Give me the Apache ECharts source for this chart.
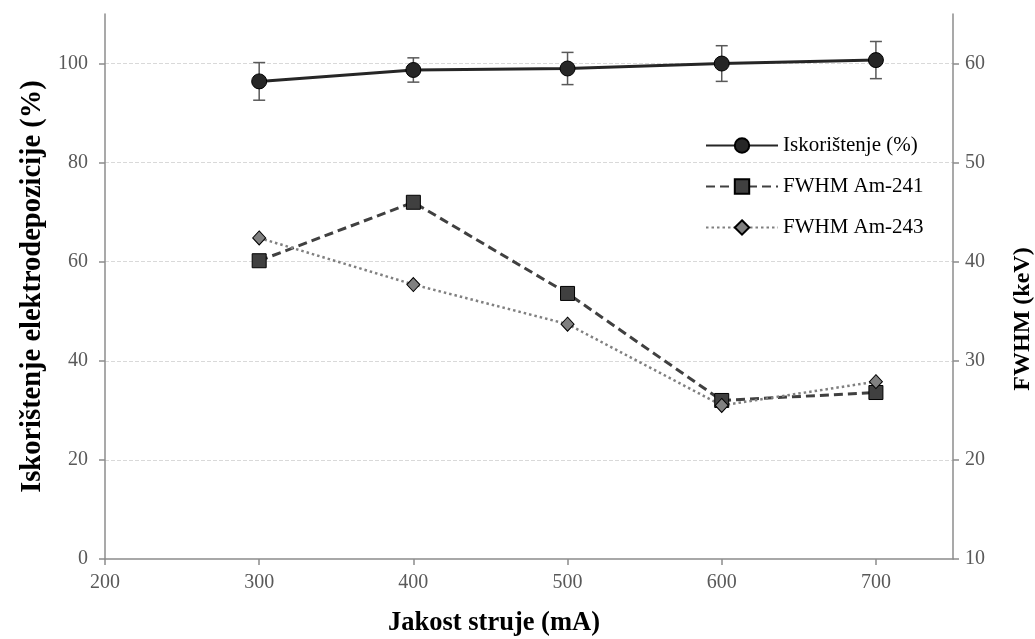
<!DOCTYPE html>
<html><head><meta charset="utf-8">
<script src="https://cdn.jsdelivr.net/npm/echarts@6/dist/echarts.min.js"></script>
<style>html,body{margin:0;padding:0;background:#fff}#c{width:1035px;height:639px}</style>
</head><body><div id="c"></div>
<script>
var current = [300, 400, 500, 600, 700];
var efficiency = [96.4, 98.7, 99.0, 100.0, 100.7];
var efficiencyErr = [3.8, 2.45, 3.25, 3.6, 3.75];
var fwhm241 = [40.1, 46.0, 36.8, 26.0, 26.8];
var fwhm243 = [42.4, 37.7, 33.7, 25.5, 27.9];
var names = ['Iskorištenje (%)', 'FWHM Am-241', 'FWHM Am-243'];
var xTicks = [200, 300, 400, 500, 600, 700];
var leftTicks = [0, 20, 40, 60, 80, 100];
var rightTicks = [10, 20, 30, 40, 50, 60];

var font = 'Liberation Serif, Times New Roman, serif';
function pairs(xs, ys){ return xs.map(function(x,i){ return [x, ys[i]]; }); }
var errData = current.map(function(x,i){ return [x, efficiency[i]-efficiencyErr[i], efficiency[i]+efficiencyErr[i]]; });
var gridData = leftTicks.filter(function(v){ return v > 0; }).map(function(v){ return {yAxis:v}; });

var axisLineStyle = {show:true, lineStyle:{color:'#8c8c8c', width:1.5}};
var labelStyle = {fontFamily:font, fontSize:20, color:'#595959'};
var titleStyle = {fontFamily:font, fontWeight:'bold', color:'#000'};

var chart = echarts.init(document.getElementById('c'), null, {renderer:'canvas'});
chart.setOption({
  backgroundColor:'#fff',
  animation:false,
  grid:{left:105, right:82, top:14, bottom:80, containLabel:false, outerBoundsMode:'none'},
  legend:{
    data:names, orient:'vertical', left:700, top:130, itemGap:20,
    itemWidth:72, itemHeight:18,
    textStyle:{fontFamily:font, fontSize:21, color:'#000'}
  },
  xAxis:{
    type:'value', min:200, max:750, interval:100,
    name:'Jakost struje (mA)', nameLocation:'middle', nameGap:51,
    nameTextStyle:Object.assign({fontSize:26.5, padding:[0,70,0,0]}, titleStyle),
    axisLine:axisLineStyle,
    axisTick:{show:true, length:6, customValues:xTicks, lineStyle:{color:'#8c8c8c', width:1.5}},
    axisLabel:Object.assign({margin:14, customValues:xTicks}, labelStyle),
    splitLine:{show:false}
  },
  yAxis:[{
    type:'value', min:0, max:110, interval:10,
    name:'Iskorištenje elektrodepozicije (%)', nameLocation:'middle', nameGap:49, nameRotate:90,
    nameTextStyle:Object.assign({fontSize:28.5, padding:[0,0,8,0]}, titleStyle),
    axisLine:axisLineStyle,
    axisTick:{show:true, length:6, customValues:leftTicks, lineStyle:{color:'#8c8c8c', width:1.5}},
    axisLabel:Object.assign({margin:17, customValues:leftTicks}, labelStyle),
    splitLine:{show:false}
  },{
    type:'value', min:10, max:65, interval:5, position:'right',
    name:'FWHM (keV)', nameLocation:'middle', nameGap:58, nameRotate:90,
    nameTextStyle:Object.assign({fontSize:24, padding:[0,65,0,0]}, titleStyle),
    axisLine:axisLineStyle,
    axisTick:{show:true, length:6, customValues:rightTicks, lineStyle:{color:'#8c8c8c', width:1.5}},
    axisLabel:Object.assign({margin:12, customValues:rightTicks}, labelStyle),
    splitLine:{show:false}
  }],
  series:[{
    type:'custom', name:'err', yAxisIndex:0, z:1,
    renderItem:function(params, api){
      var x = api.value(0);
      var lo = api.coord([x, api.value(1)]);
      var hi = api.coord([x, api.value(2)]);
      var w = 6;
      var st = {stroke:'#595959', lineWidth:1.5};
      return {type:'group', children:[
        {type:'line', shape:{x1:lo[0], y1:lo[1], x2:hi[0], y2:hi[1]}, style:st},
        {type:'line', shape:{x1:lo[0]-w, y1:lo[1], x2:lo[0]+w, y2:lo[1]}, style:st},
        {type:'line', shape:{x1:hi[0]-w, y1:hi[1], x2:hi[0]+w, y2:hi[1]}, style:st}
      ]};
    },
    data:errData,
    markLine:{
      silent:true, symbol:['none','none'], label:{show:false}, z:0,
      lineStyle:{color:'#d9d9d9', type:[4,2], width:1},
      emphasis:{disabled:true},
      data:gridData
    }
  },{
    type:'line', name:names[0], yAxisIndex:0, z:3,
    data:pairs(current, efficiency),
    symbol:'circle', symbolSize:15,
    lineStyle:{color:'#262626', width:3, type:'solid'},
    itemStyle:{color:'#262626', borderColor:'#000', borderWidth:1}
  },{
    type:'line', name:names[1], yAxisIndex:1, z:3,
    data:pairs(current, fwhm241),
    symbol:'rect', symbolSize:14,
    lineStyle:{color:'#404040', width:3, type:[9,5]},
    itemStyle:{color:'#404040', borderColor:'#000', borderWidth:1}
  },{
    type:'line', name:names[2], yAxisIndex:1, z:3,
    data:pairs(current, fwhm243),
    symbol:'diamond', symbolSize:[13,14],
    lineStyle:{color:'#808080', width:2.5, type:[2.5,3]},
    itemStyle:{color:'#808080', borderColor:'#000', borderWidth:1}
  }]
});
</script></body></html>
